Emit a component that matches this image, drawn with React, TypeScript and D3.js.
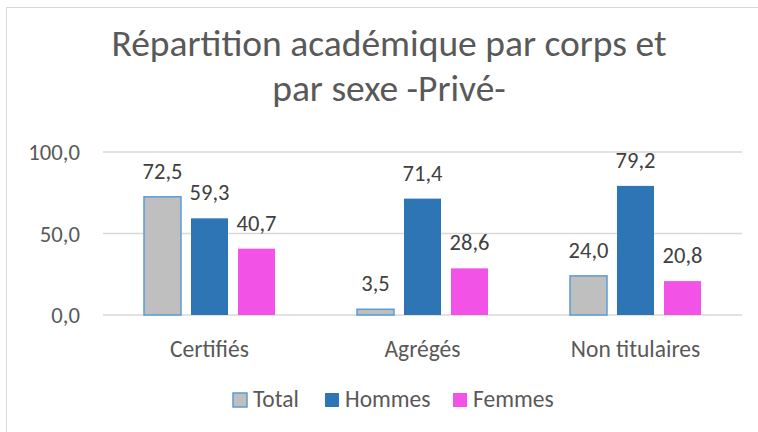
import React from "react";
import * as d3 from "d3";

const categories = ["Certifiés", "Agrégés", "Non titulaires"];
const seriesNames = ["Total", "Hommes", "Femmes"];
const totalValues = [72.5, 3.5, 24.0];
const hommesValues = [59.3, 71.4, 79.2];
const femmesValues = [40.7, 28.6, 20.8];
const yTicks = [0, 50, 100];

const fills = ["#BFBFBF", "#2E75B6", "#F252E6"];
const strokes = ["#5B9BD5", "none", "none"];
const FONT = "Carlito, Calibri, 'Open Sans', sans-serif";

export default function App() {
  const W = 758, H = 432;
  const left = 103, right = 742, top = 152, bottom = 315;
  const series = [totalValues, hommesValues, femmesValues];
  const x0 = d3.scaleBand().domain(categories).range([left, right]).padding(0);
  const y = d3.scaleLinear().domain([0, 100]).range([bottom, top]);
  const fmt = (v: number) => v.toFixed(1).replace(".", ",");
  const barW = 37, step = 47;
  const legendX = [233, 325, 453];
  return (
    <svg width={W} height={H} style={{ position: "absolute", left: 0, top: 0 }}>
      <rect x={0} y={0} width={W} height={H} fill="#fff" />
      <rect x={6.5} y={7.5} width={W} height={H} fill="#fff" stroke="#D9D9D9" />
      <text x={389} y={56} textAnchor="middle" fontFamily={FONT} fontSize={37.5} fill="#595959">Répartition académique par corps et</text>
      <text x={389} y={101} textAnchor="middle" fontFamily={FONT} fontSize={37.5} fill="#595959">par sexe -Privé-</text>
      {yTicks.map((t) => (
        <g key={t}>
          <line x1={left} x2={right} y1={y(t)} y2={y(t)} stroke="#D9D9D9" strokeWidth={1.5} />
          <text x={80} y={y(t) + 8} textAnchor="end" fontFamily={FONT} fontSize={22.7} fill="#595959">{fmt(t)}</text>
        </g>
      ))}
      {categories.map((c, ci) => {
        const cx = x0(c)! + x0.bandwidth() / 2;
        return (
          <g key={c}>
            {series.map((vals, si) => {
              const bx = cx + (si - 1) * step - barW / 2;
              const by = y(vals[ci]);
              return (
                <g key={si}>
                  <rect x={bx} y={by} width={barW} height={bottom - by} fill={fills[si]} stroke={strokes[si]} strokeWidth={1.5} />
                  <text x={bx + barW / 2} y={by - 18} textAnchor="middle" fontFamily={FONT} fontSize={22.5} fill="#404040">{fmt(vals[ci])}</text>
                </g>
              );
            })}
            <text x={cx} y={357} textAnchor="middle" fontFamily={FONT} fontSize={23.5} fill="#595959">{c}</text>
          </g>
        );
      })}
      {seriesNames.map((n, i) => (
        <g key={n}>
          <rect x={legendX[i]} y={393} width={14} height={14} fill={fills[i]} stroke={strokes[i]} strokeWidth={1.5} />
          <text x={legendX[i] + 20} y={407} fontFamily={FONT} fontSize={23.5} fill="#595959">{n}</text>
        </g>
      ))}
    </svg>
  );
}
